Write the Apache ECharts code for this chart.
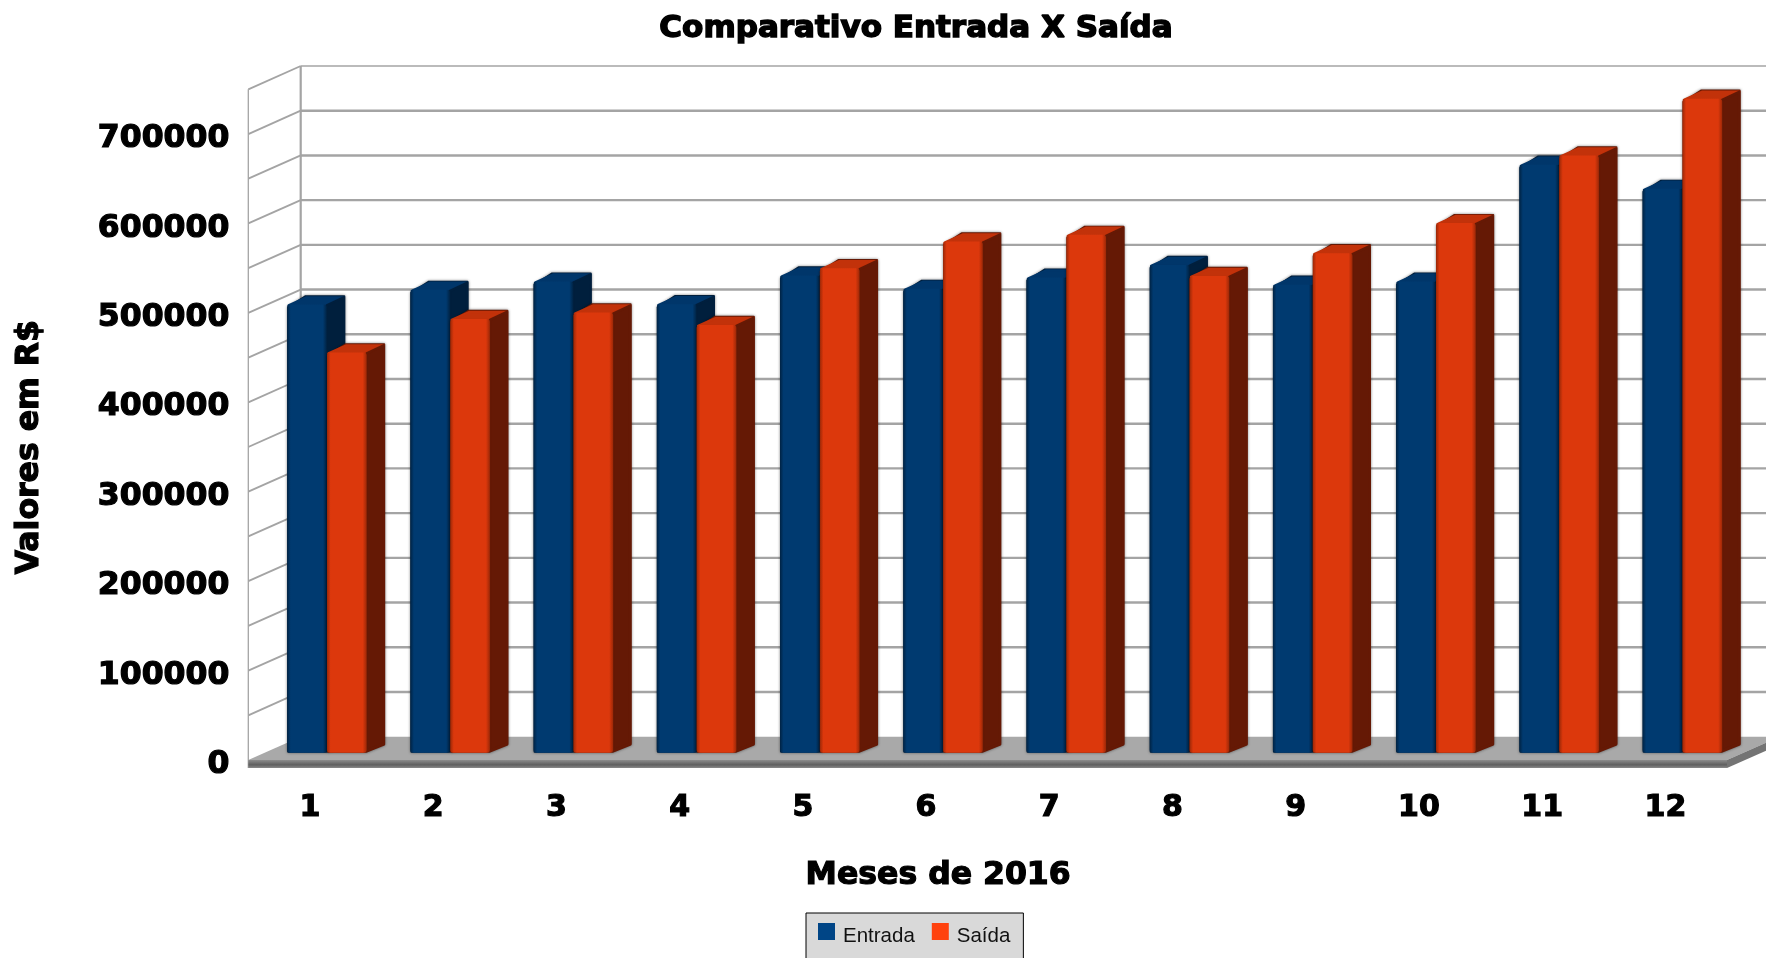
<!DOCTYPE html>
<html><head><meta charset="utf-8">
<style>html,body{margin:0;padding:0;background:#fff;overflow:hidden}#c{width:1766px;height:958px;filter:blur(0.45px)}</style>
<script src="https://cdn.jsdelivr.net/npm/echarts@6/dist/echarts.min.js"></script>
</head><body><div id="c"></div>
<script>
const categories = ['1','2','3','4','5','6','7','8','9','10','11','12'];
const entrada = [501300,517600,526800,501600,533600,518700,531300,545500,523200,526800,657400,630500];
const saida   = [447600,485100,492200,478400,541800,571600,579100,533200,558600,592200,667800,731200];
const gridValues = [50000,100000,150000,200000,250000,300000,350000,400000,450000,500000,550000,600000,650000,700000,750000];
const floorData = [0];

const chart = echarts.init(document.getElementById('c'), null, {renderer:'canvas'});
const WD = 52.4, HD = 23.3;      // wall depth
const BOX = 16.5, BOY = 7.3;     // bar offset inside the depth
const BD = 18.5, BH = 8.2;       // bar depth
const GRID = '#a4a4a4';
const FONT = '"DejaVu Sans"';
const HEAVY = {fontFamily:FONT,fontWeight:'bold',color:'#000',textBorderColor:'#000',textBorderWidth:1.2};

function gridItem(params, api){
  const cs = params.coordSys, v = api.value(1);
  const y = api.coord([0, v])[1];
  const l = cs.x, b = l + WD;
  const top = v === 750000;
  return {type:'group', children:[
    {type:'line', shape:{x1:b,y1:y-HD,x2:b+cs.width,y2:y-HD}, style:{stroke:GRID,lineWidth:top?1.5:2.4}},
    {type:'line', shape:{x1:l,y1:y,x2:b,y2:y-HD}, style:{stroke:GRID,lineWidth:1.9}}
  ]};
}
function floorItem(params, api){
  const cs = params.coordSys, l = cs.x, r = cs.x+cs.width, y0 = api.coord([0,0])[1];
  const grad = new echarts.graphic.LinearGradient(0,0,0,1,[{offset:0,color:'#8c8c8c'},{offset:.6,color:'#5f5f5f'},{offset:1,color:'#8a8a8a'}]);
  return {type:'group', children:[
    {type:'line', shape:{x1:l,y1:cs.y,x2:l,y2:y0+8}, style:{stroke:GRID,lineWidth:1.3}},
    {type:'line', shape:{x1:l+WD,y1:cs.y-HD,x2:l+WD,y2:y0-HD}, style:{stroke:GRID,lineWidth:2.2}},
    {type:'polygon', shape:{points:[[l,y0],[r,y0],[r+WD,y0-HD],[l+WD,y0-HD]]}, style:{fill:'#a9a9a9'}},
    {type:'polygon', shape:{points:[[r,y0],[r+WD,y0-HD],[r+WD,y0-HD+8],[r,y0+8]]}, style:{fill:'#747474'}},
    {type:'rect', shape:{x:l,y:y0,width:r-l,height:8}, style:{fill:grad}}
  ]};
}
function barRenderer(slot, face, edge, topc, side){
  return function(params, api){
    const i = api.value(0);
    const p = api.coord([i, api.value(1)]), p0 = api.coord([i, 0]);
    const w = api.size([1,0])[0] * 0.322;
    const x = p[0] + BOX + (slot === 0 ? -w : 0) + (slot === 0 ? 0.4 : 0.6);
    const yt = p[1] - BOY, yb = p0[1] - BOY;
    const g = new echarts.graphic.LinearGradient(0,0,1,0,[
      {offset:0,color:edge},{offset:.09,color:face},{offset:.9,color:face},{offset:1,color:edge}]);
    const sil = [[x+1,yt+3],[x+BD,yt-BH],[x+w+BD-1,yt-BH],[x+w+BD-1,yb-BH],[x+w,yb-1],[x+1,yb-1]];
    const s = (fill)=>({fill:fill,stroke:fill,lineWidth:2.5,lineJoin:'round'});
    return {type:'group', children:[
      {type:'polygon', shape:{points:sil}, style:{fill:side,stroke:side,lineWidth:2,lineJoin:'round',shadowBlur:3,shadowColor:'rgba(0,0,0,.4)'}},
      {type:'polygon', shape:{points:[[x+1.5,yt+1],[x+w-1,yt+1],[x+w+BD-1.5,yt-BH+1.2],[x+BD+1,yt-BH+1.2]]}, style:s(topc)},
      {type:'polygon', shape:{points:[[x+w,yt+1],[x+w+BD-1.5,yt-BH+1.2],[x+w+BD-1.5,yb-BH-1],[x+w,yb-2]]}, style:s(side)},
      {type:'rect', shape:{x:x,y:yt,width:w,height:yb-yt,r:3}, style:{fill:g}}
    ]};
  };
}
function toXY(arr){ return arr.map((v,i)=>[i,v]); }

chart.setOption({
  animation:false,
  backgroundColor:'#fff',
  title:[{text:'Comparativo Entrada X Saída',left:911,top:8,textAlign:'center',
    textStyle:Object.assign({fontSize:31},HEAVY,{textBorderWidth:1.5})}],
  legend:{data:['Entrada','Saída'],left:806,top:913,orient:'horizontal',
    padding:[10,13,40,12],itemWidth:17,itemHeight:17,itemGap:17,
    backgroundColor:'#d9d9d9',borderColor:'#000',borderWidth:1,
    icon:'rect',
    formatter:'{t|{name}}',
    textStyle:{rich:{t:{fontFamily:'"Liberation Sans"',fontSize:20.5,color:'#111',padding:[10,0,0,3]}}}},
  grid:{left:248.3,top:89.3,width:1478.7,height:670.7,outerBoundsMode:'none'},
  xAxis:{type:'category',data:categories,
    name:'Meses de 2016',nameLocation:'middle',nameGap:100,
    nameTextStyle:Object.assign({fontSize:31.5,padding:[0,99,0,0]},HEAVY),
    axisLine:{show:false},axisTick:{show:false},splitLine:{show:false},
    axisLabel:Object.assign({fontSize:30,margin:33},HEAVY)},
  yAxis:{type:'value',min:0,max:750000,interval:100000,
    name:'Valores em R$',nameLocation:'middle',nameRotate:90,nameGap:202,
    nameTextStyle:Object.assign({fontSize:31.5,padding:[0,45,0,0]},HEAVY),
    axisLine:{show:false},axisTick:{show:false},splitLine:{show:false},
    axisLabel:{margin:19,
      formatter:v=>(v%100000===0?'{t|'+v+'}':''),
      rich:{t:Object.assign({fontSize:31.5,padding:[10,0,0,0]},HEAVY)}}},
  series:[
    {name:'grid',type:'custom',coordinateSystem:'cartesian2d',clip:false,silent:true,
      renderItem:gridItem,data:gridValues.map(v=>[0,v]),encode:{x:0,y:1}},
    {name:'floor',type:'custom',coordinateSystem:'cartesian2d',clip:false,silent:true,
      renderItem:floorItem,data:floorData.map(v=>[0,v]),encode:{x:0,y:1}},
    {name:'Entrada',type:'custom',coordinateSystem:'cartesian2d',clip:false,
      itemStyle:{color:'#004586'},
      renderItem:barRenderer(0,'#003a70','#002344','#00366a','#001f3d'),
      data:toXY(entrada),encode:{x:0,y:1}},
    {name:'Saída',type:'custom',coordinateSystem:'cartesian2d',clip:false,
      itemStyle:{color:'#ff420e'},
      renderItem:barRenderer(1,'#dc380c','#9c2807','#c2320a','#651905'),
      data:toXY(saida),encode:{x:0,y:1}}
  ]
});
</script></body></html>
